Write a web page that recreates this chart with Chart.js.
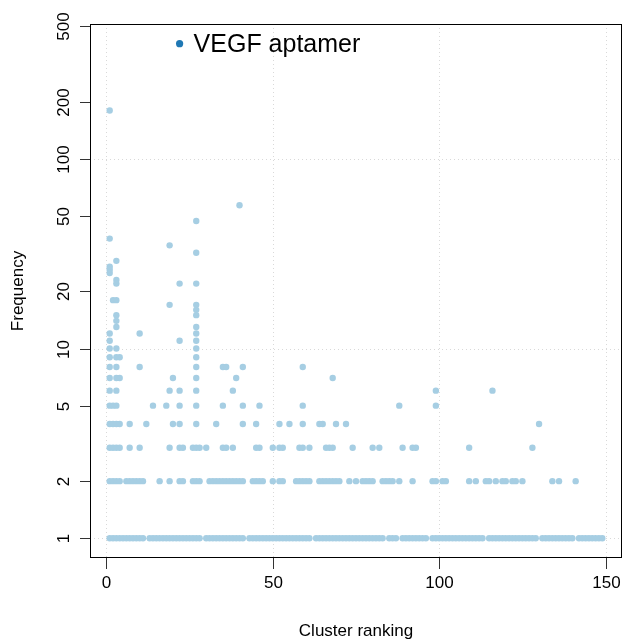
<!DOCTYPE html>
<html>
<head>
<meta charset="utf-8">
<script src="https://cdn.jsdelivr.net/npm/chart.js@4/dist/chart.umd.min.js"></script>
<style>
  html, body { margin: 0; padding: 0; background: #fff; }
  #wrap { width: 626px; height: 640px; }
</style>
</head>
<body>
<div id="wrap"><canvas id="clusters" width="626" height="640"></canvas></div>
<script>
// cluster rankings that have at least one sequence at a given frequency
const ranksAt1 = [1, 2, 3, 4, 5, 6, 7, 8, 9, 10, 11, 13, 14, 15, 16, 17, 18, 19, 20,
  21, 22, 23, 24, 25, 26, 27, 28, 30, 31, 32, 33, 34, 35, 36, 37, 38, 39, 40, 41,
  43, 44, 45, 46, 47, 48, 49, 50, 51, 52, 53, 54, 55, 56, 57, 58, 59, 60, 61, 63,
  64, 65, 66, 67, 68, 69, 70, 71, 72, 73, 74, 75, 76, 77, 78, 79, 80, 81, 82, 83,
  85, 86, 87, 89, 90, 91, 92, 93, 94, 95, 96, 98, 99, 100, 101, 102, 103, 104, 105,
  106, 107, 108, 109, 110, 111, 112, 113, 115, 116, 117, 118, 119, 120, 121, 122,
  123, 124, 125, 126, 127, 128, 129, 131, 132, 133, 134, 135, 136, 137, 138, 139,
  140, 142, 143, 144, 145, 146, 147, 148, 149];
const ranksAt2 = [1, 2, 3, 4, 6, 7, 8, 9, 10, 11, 16, 19, 22, 23, 26, 27, 28, 31, 32,
  33, 34, 35, 36, 37, 38, 39, 40, 41, 44, 45, 46, 47, 50, 52, 53, 57, 58, 59, 60,
  61, 64, 65, 66, 67, 68, 69, 70, 73, 75, 77, 78, 79, 80, 83, 84, 85, 86, 88, 92,
  98, 99, 101, 102, 109, 111, 114, 115, 117, 119, 120, 122, 123, 125, 134, 136, 141];
const ranksAt3 = [1, 2, 3, 4, 7, 10, 19, 22, 23, 26, 27, 28, 30, 35, 36, 38, 45, 46,
  50, 52, 53, 58, 59, 61, 66, 67, 68, 74, 80, 82, 89, 92, 93, 109, 128];
const ranksAt4 = [1, 2, 3, 4, 7, 12, 20, 22, 27, 33, 41, 45, 52, 55, 59, 64, 65, 69, 72, 130];
const ranksAt5 = [1, 2, 3, 14, 18, 22, 27, 35, 41, 46, 59, 88, 99];
const ranksAt6 = [1, 3, 19, 22, 27, 38, 99, 116];
const ranksAt7 = [1, 3, 4, 20, 27, 39, 68];
const ranksAt8 = [1, 3, 10, 27, 35, 36, 41, 59];

// the scattered high-frequency points
const highRanks = [1, 3, 4, 27, 1, 3, 27, 1, 22, 27, 1, 10, 27, 3, 27, 3, 3, 27, 27,
  19, 27, 2, 3, 3, 22, 27, 3, 1, 1, 1, 3, 27, 19, 1, 27, 40, 1];
const highFreqs = [9, 9, 9, 9, 10, 10, 10, 11, 11, 11, 12, 12, 12, 13, 13, 14, 15, 15, 16,
  17, 17, 18, 18, 22, 22, 22, 23, 25, 26, 27, 29, 32, 35, 38, 47, 57, 180];

const vegfRank = [22];
const vegfFreq = [405];

const xTicks = [0, 50, 100, 150];
const yTicks = [1, 2, 5, 10, 20, 50, 100, 200, 500];
const yGrid = [1, 10, 100];

const levelRanks = [ranksAt1, ranksAt2, ranksAt3, ranksAt4, ranksAt5, ranksAt6, ranksAt7, ranksAt8];

const clusterPoints = [];
levelRanks.forEach((ranks, i) => {
  ranks.forEach((r) => clusterPoints.push({ x: r, y: i + 1 }));
});
highRanks.forEach((r, i) => clusterPoints.push({ x: r, y: highFreqs[i] }));

const vegfPoints = vegfRank.map((r, i) => ({ x: r, y: vegfFreq[i] }));

const FONT = '"Liberation Sans", Arial, Helvetica, sans-serif';

const rAxes = {
  id: 'rAxes',
  beforeDatasetsDraw(chart) {
    const { ctx, chartArea: a, scales } = chart;
    ctx.save();
    ctx.strokeStyle = '#d9d9d9';
    ctx.lineWidth = 1;
    ctx.setLineDash([1, 3]);
    for (const t of xTicks) {
      const px = Math.round(scales.x.getPixelForValue(t)) + 0.5;
      ctx.beginPath();
      ctx.moveTo(px, a.top);
      ctx.lineTo(px, a.bottom);
      ctx.stroke();
    }
    for (const t of yGrid) {
      const py = Math.round(scales.y.getPixelForValue(t)) + 0.5;
      ctx.beginPath();
      ctx.moveTo(a.left, py);
      ctx.lineTo(a.right, py);
      ctx.stroke();
    }
    ctx.restore();
  },
  afterDatasetsDraw(chart) {
    const { ctx, chartArea: a, scales } = chart;
    ctx.save();
    ctx.setLineDash([]);
    ctx.strokeStyle = '#000';
    ctx.lineWidth = 1;
    ctx.strokeRect(Math.round(a.left) + 0.5, Math.round(a.top) + 0.5,
      Math.round(a.right - a.left) - 1, Math.round(a.bottom - a.top) - 1);

    ctx.strokeStyle = '#333';
    ctx.fillStyle = '#000';
    ctx.font = '17px ' + FONT;

    // x axis
    ctx.textAlign = 'center';
    ctx.textBaseline = 'middle';
    for (const t of xTicks) {
      const px = Math.round(scales.x.getPixelForValue(t)) + 0.5;
      ctx.beginPath();
      ctx.moveTo(px, a.bottom);
      ctx.lineTo(px, a.bottom + 11);
      ctx.stroke();
      ctx.fillText(String(t), px, 583);
    }
    ctx.fillText('Cluster ranking', (a.left + a.right) / 2, 631);

    // y axis
    for (const t of yTicks) {
      const py = Math.round(scales.y.getPixelForValue(t)) + 0.5;
      ctx.beginPath();
      ctx.moveTo(a.left - 10, py);
      ctx.lineTo(a.left, py);
      ctx.stroke();
      ctx.save();
      ctx.translate(64, py);
      ctx.rotate(-Math.PI / 2);
      ctx.fillText(String(t), 0, 0);
      ctx.restore();
    }
    ctx.save();
    ctx.translate(18, (a.top + a.bottom) / 2);
    ctx.rotate(-Math.PI / 2);
    ctx.fillText('Frequency', 0, 0);
    ctx.restore();

    // label next to the VEGF aptamer point
    ctx.font = '25px ' + FONT;
    ctx.textAlign = 'left';
    ctx.fillText('VEGF aptamer',
      scales.x.getPixelForValue(vegfRank[0]) + 14,
      scales.y.getPixelForValue(vegfFreq[0]) + 1);
    ctx.restore();
  },
};

new Chart(document.getElementById('clusters'), {
  type: 'scatter',
  data: {
    datasets: [
      {
        label: 'Clusters',
        data: clusterPoints,
        backgroundColor: '#a6cee3',
        borderWidth: 0,
        pointRadius: 3.2,
      },
      {
        label: 'VEGF aptamer',
        data: vegfPoints,
        backgroundColor: '#1f78b4',
        borderWidth: 0,
        pointRadius: 3.6,
      },
    ],
  },
  options: {
    responsive: false,
    animation: false,
    devicePixelRatio: 1,
    layout: { padding: { left: 90, top: 24, right: 1, bottom: 82 } },
    plugins: { legend: { display: false }, tooltip: { enabled: false } },
    scales: {
      x: { type: 'linear', min: -4.92, max: 154.92, display: false },
      y: { type: 'logarithmic', min: 0.787, max: 514, display: false },
    },
  },
  plugins: [rAxes],
});
</script>
</body>
</html>
